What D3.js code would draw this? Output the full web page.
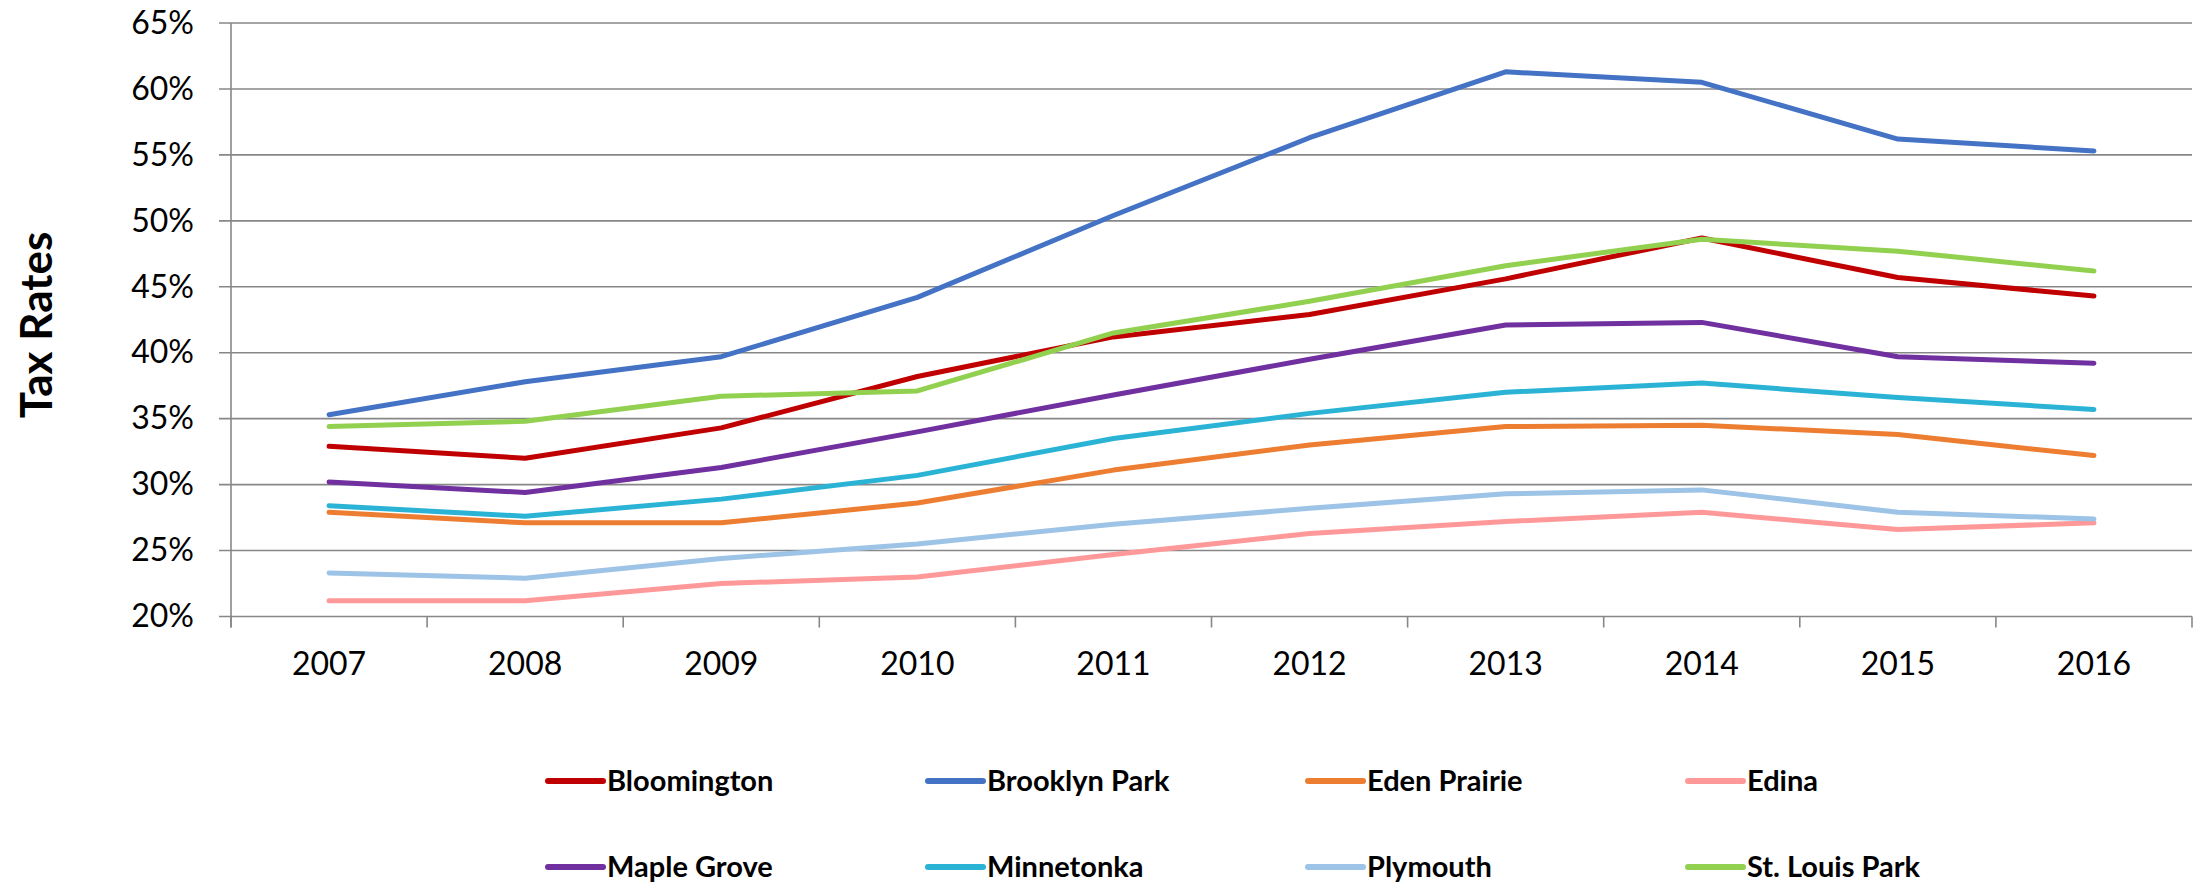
<!DOCTYPE html>
<html>
<head>
<meta charset="utf-8">
<script src="https://cdn.jsdelivr.net/npm/d3@7"></script>
<style>
  html, body { margin: 0; padding: 0; background: #fff; }
  svg { display: block; font-family: "Lato", "Open Sans", sans-serif; }
</style>
</head>
<body>
<svg id="chart" width="2206" height="883"></svg>
<script>
const years = ["2007","2008","2009","2010","2011","2012","2013","2014","2015","2016"];
const seriesNames = ["Bloomington","Brooklyn Park","Eden Prairie","Edina","Maple Grove","Minnetonka","Plymouth","St. Louis Park"];
const seriesColors = ["#C00000","#4472C4","#ED7D31","#FF9999","#7030A0","#2BB3D5","#9DC3E6","#92D050"];
const bloomington  = [32.9, 32.0, 34.3, 38.2, 41.2, 42.9, 45.6, 48.7, 45.7, 44.3];
const brooklynPark = [35.3, 37.8, 39.7, 44.2, 50.4, 56.3, 61.3, 60.5, 56.2, 55.3];
const edenPrairie  = [27.9, 27.1, 27.1, 28.6, 31.1, 33.0, 34.4, 34.5, 33.8, 32.2];
const edina        = [21.2, 21.2, 22.5, 23.0, 24.7, 26.3, 27.2, 27.9, 26.6, 27.1];
const mapleGrove   = [30.2, 29.4, 31.3, 34.0, 36.8, 39.5, 42.1, 42.3, 39.7, 39.2];
const minnetonka   = [28.4, 27.6, 28.9, 30.7, 33.5, 35.4, 37.0, 37.7, 36.6, 35.7];
const plymouth     = [23.3, 22.9, 24.4, 25.5, 27.0, 28.2, 29.3, 29.6, 27.9, 27.4];
const stLouisPark  = [34.4, 34.8, 36.7, 37.1, 41.5, 43.9, 46.6, 48.6, 47.7, 46.2];
const seriesValues = [bloomington, brooklynPark, edenPrairie, edina, mapleGrove, minnetonka, plymouth, stLouisPark];
const yTicks = [20, 25, 30, 35, 40, 45, 50, 55, 60, 65];
const yLabel = "Tax Rates";

const svg = d3.select("#chart");
const pLeft = 231, pRight = 2192, pTop = 23, pBottom = 616.5;

const x = d3.scaleBand().domain(years).range([pLeft, pRight]).paddingInner(0).paddingOuter(0);
const y = d3.scaleLinear().domain([20, 65]).range([pBottom, pTop]);
const gridColor = "#878787";

// gridlines
svg.append("g").selectAll("line").data(yTicks).join("line")
  .attr("x1", pLeft - 12).attr("x2", pRight)
  .attr("y1", d => y(d)).attr("y2", d => y(d))
  .attr("stroke", gridColor).attr("stroke-width", 1.6);

// y axis
const yAxis = d3.axisLeft(y).tickValues(yTicks).tickSize(0).tickPadding(37).tickFormat(d => d + "%");
const gy = svg.append("g").attr("transform", `translate(${pLeft},0)`).call(yAxis);
gy.select(".domain").remove();
gy.selectAll("text").attr("font-size", 32).attr("fill", "#000").attr("font-family", "Lato");
svg.append("line").attr("x1", pLeft).attr("x2", pLeft).attr("y1", pTop).attr("y2", pBottom + 11)
  .attr("stroke", gridColor).attr("stroke-width", 1.6);

// x axis
const boundaries = years.map(d => x(d)).concat([pRight]);
svg.append("g").selectAll("line").data(boundaries).join("line")
  .attr("x1", d => d).attr("x2", d => d).attr("y1", pBottom).attr("y2", pBottom + 11)
  .attr("stroke", gridColor).attr("stroke-width", 1.6);
const xAxis = d3.axisBottom(x).tickSize(0).tickPadding(36);
const gx = svg.append("g").attr("transform", `translate(0,${pBottom})`).call(xAxis);
gx.select(".domain").remove();
gx.selectAll("text").attr("font-size", 32).attr("fill", "#000").attr("font-family", "Lato");

// y label
svg.append("text")
  .attr("transform", `translate(35,325) rotate(-90)`)
  .attr("text-anchor", "middle").attr("dominant-baseline", "central")
  .attr("font-size", 44).attr("font-weight", "bold").attr("fill", "#000")
  .text(yLabel);

// lines
const line = d3.line().x((d, i) => x(years[i]) + x.bandwidth() / 2).y(d => y(d));
svg.append("g").selectAll("path").data(seriesValues).join("path")
  .attr("d", d => line(d))
  .attr("fill", "none")
  .attr("stroke", (d, i) => seriesColors[i])
  .attr("stroke-width", 5)
  .attr("stroke-linejoin", "round")
  .attr("stroke-linecap", "round");

// legend
const legX = [548, 928, 1308, 1688];
const legY = [781, 867];
const leg = svg.append("g").selectAll("g").data(seriesNames).join("g")
  .attr("transform", (d, i) => `translate(${legX[i % 4]},${legY[Math.floor(i / 4)]})`);
leg.append("line").attr("x1", 0).attr("x2", 55).attr("y1", 0).attr("y2", 0)
  .attr("stroke", (d, i) => seriesColors[i]).attr("stroke-width", 6).attr("stroke-linecap", "round");
leg.append("text").attr("x", 59).attr("y", 0).attr("dy", "0.35em")
  .attr("font-size", 29).attr("font-weight", "bold").attr("fill", "#000")
  .text(d => d);
</script>
</body>
</html>
